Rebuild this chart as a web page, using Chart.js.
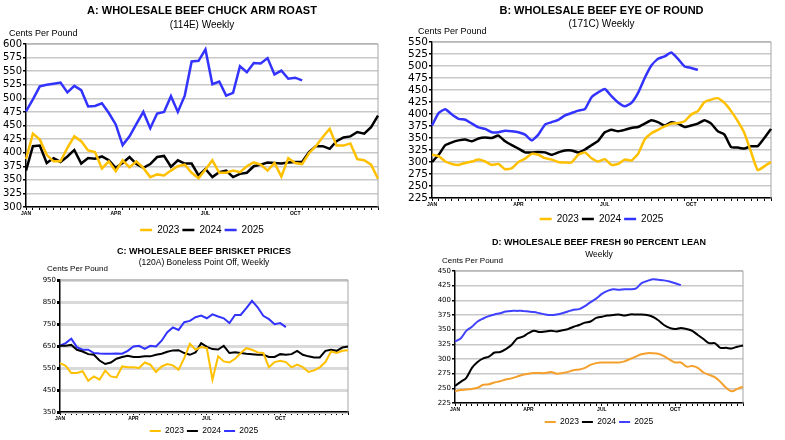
<!DOCTYPE html>
<html>
<head>
<meta charset="utf-8">
<script src="https://cdn.jsdelivr.net/npm/chart.js@4.4.1/dist/chart.umd.min.js"></script>
<style>
  html, body { margin: 0; padding: 0; background: #fff; }
  body { width: 785px; height: 440px; position: relative; overflow: hidden; }
  .panel { position: absolute; }
</style>
</head>
<body>
<div class="panel" style="left:0;top:0;width:392px;height:240px"><canvas id="chuckChart"></canvas></div>
<div class="panel" style="left:392px;top:0;width:393px;height:230px"><canvas id="eyeChart"></canvas></div>
<div class="panel" style="left:0;top:240px;width:392px;height:200px"><canvas id="brisketChart"></canvas></div>
<div class="panel" style="left:392px;top:230px;width:393px;height:210px"><canvas id="leanChart"></canvas></div>
<script>
// weekly categories and month tick labels
const weeks = Array.from({ length: 52 }, (_, i) => i + 1);
const monthNames = ['JAN', 'APR', 'JUL', 'OCT'];
const monthWeeks = [1, 14, 27, 40];
const years = ['2023', '2024', '2025'];

// A: chuck arm roast (114E)
const chuck2023 = [388,435,424,396,384,384,409,430,421,404,401,371,384,366,386,373,384,372,355,360,358,367,375,378,363,353,369,386,363,363,367,364,375,382,378,367,381,356,390,381,379,399,412,429,444,413,413,417,388,386,378,352];
const chuck2024 = [367,412,413,381,390,383,393,405,380,390,389,393,386,372,381,392,379,372,379,392,394,374,386,380,380,358,370,355,364,367,355,361,363,375,378,382,381,380,382,383,383,401,412,412,407,421,428,430,438,435,447,468];
const chuck2025 = [476,498,522,525,527,529,511,523,515,485,486,491,473,452,414,430,453,475,445,472,475,504,475,505,568,569,590,526,531,505,510,559,548,565,564,574,544,551,536,538,533];
const chuckTicks = [300,325,350,375,400,425,450,475,500,525,550,575,600];

// B: eye of round (171C)
const eye2023 = [315,312,301,296,294,298,301,305,301,294,296,285,287,300,307,317,315,308,305,300,299,299,315,320,308,301,306,294,296,305,303,317,347,360,367,374,380,381,385,399,406,425,430,433,423,406,385,360,321,283,291,300];
const eye2024 = [300,315,335,341,345,347,343,349,351,350,355,343,335,328,320,320,321,320,315,320,324,324,320,326,335,344,362,367,364,367,371,373,380,387,383,376,383,380,373,376,380,387,380,364,357,331,330,328,333,333,350,369];
const eye2025 = [376,402,410,399,390,388,380,372,369,362,362,365,364,362,357,345,357,378,383,388,397,402,407,410,435,445,452,437,424,416,423,444,475,501,515,520,528,515,499,496,492];
const eyeTicks = [225,250,275,300,325,350,375,400,425,450,475,500,525,550];

// C: brisket (120A)
const brisket2023 = [572,560,527,527,535,492,512,497,538,512,507,557,553,553,550,575,565,532,557,568,562,542,595,660,633,645,640,497,603,580,575,592,618,640,633,621,618,553,577,583,577,553,565,554,532,539,553,577,625,618,628,631];
const brisket2024 = [651,651,655,633,625,613,610,584,568,575,592,600,606,600,600,603,603,610,615,624,630,631,618,610,621,663,646,636,634,651,618,621,618,615,613,610,610,600,600,613,610,613,628,610,603,598,598,628,633,628,643,648];
const brisket2025 = [651,663,683,645,633,633,618,616,615,615,616,615,628,648,651,637,651,648,674,713,734,723,758,764,781,788,776,794,784,776,754,791,791,822,855,826,787,772,749,754,736];
const brisketTicks = [350,450,550,650,750,850,950];

// D: fresh 90 percent lean
const lean2023 = [245,247,248,249,251,256,257,260,262,265,267,270,273,275,276,276,276,278,275,276,278,281,282,285,290,293,294,294,294,294,296,300,304,308,310,310,309,305,299,294,294,287,288,285,277,273,269,261,251,245,249,253];
const lean2024 = [254,261,268,285,295,301,304,311,312,317,324,335,338,344,348,346,347,348,347,349,351,355,358,362,364,370,372,374,375,376,374,376,376,376,375,372,366,358,353,351,353,351,348,341,334,327,327,319,319,318,321,323];
const lean2025 = [330,335,348,355,364,369,373,376,378,381,382,382,382,381,380,378,376,375,376,378,381,384,385,390,397,403,411,416,419,418,419,419,420,429,433,436,435,434,432,429,426];
const leanTicks = [225,250,275,300,325,350,375,400,425,450];

const SANS = "'Liberation Sans', Arial, sans-serif";
const TICKS = "'DejaVu Sans', sans-serif";

// gray top/right border and the "Cents Per Pound" label
const panelExtras = {
    id: 'panelExtras',
    beforeDatasetsDraw(chart, args, opts) {
        const { ctx, chartArea: a } = chart;
        ctx.save();
        ctx.strokeStyle = '#a6a6a6';
        ctx.lineWidth = 1;
        ctx.beginPath();
        ctx.moveTo(a.left, a.top);
        ctx.lineTo(a.right, a.top);
        ctx.lineTo(a.right, a.bottom);
        ctx.stroke();
        ctx.restore();
    },
    afterDraw(chart, args, opts) {
        if (!opts.text) return;
        const { ctx, chartArea: a } = chart;
        ctx.save();
        ctx.fillStyle = '#000';
        ctx.font = opts.size + 'px ' + SANS;
        ctx.textBaseline = 'middle';
        ctx.textAlign = 'left';
        ctx.fillText(opts.text, a.left + opts.dx, a.top + opts.dy);
        ctx.restore();
    }
};

function makePanel(id, p) {
    const datasets = p.series.map((s, i) => ({
        label: years[i],
        data: s,
        borderColor: p.colors[i],
        backgroundColor: p.colors[i],
        borderWidth: p.lineWidth,
        pointRadius: 0,
        tension: p.tension,
        fill: false
    }));
    return new Chart(document.getElementById(id), {
        type: 'line',
        data: { labels: weeks, datasets: datasets },
        plugins: [panelExtras],
        options: {
            responsive: true,
            maintainAspectRatio: false,
            animation: false,
            layout: { padding: p.padding },
            plugins: {
                title: {
                    display: true, text: p.title, fullSize: false, color: '#000',
                    font: { family: SANS, size: p.titleSize, weight: 'bold' },
                    padding: { top: 0, bottom: p.titleGap }
                },
                subtitle: {
                    display: true, text: p.subtitle, fullSize: false, color: '#000',
                    font: { family: SANS, size: p.subSize },
                    padding: { top: 0, bottom: p.subGap }
                },
                legend: {
                    position: 'bottom', fullSize: false,
                    maxHeight: p.legendSize + 6,
                    labels: {
                        usePointStyle: true, pointStyle: 'line', pointStyleWidth: p.legendLine,
                        color: '#000', padding: 3,
                        font: { family: SANS, size: p.legendSize }
                    }
                },
                tooltip: { enabled: false },
                panelExtras: { text: 'Cents Per Pound', size: p.unitSize, dx: p.unitDx, dy: p.unitDy }
            },
            scales: {
                x: {
                    type: 'category',
                    offset: false,
                    afterFit: s => { s.height = p.xHeight; },
                    grid: { drawOnChartArea: false, drawTicks: true, tickLength: 3, tickColor: '#000', offset: false },
                    border: { color: '#000', width: 1.5 },
                    ticks: {
                        autoSkip: false, maxRotation: 0, padding: 1, color: '#000',
                        font: { family: SANS, size: 5, weight: 'bold', lineHeight: 1 },
                        callback: (v, i) => {
                            const k = monthWeeks.indexOf(weeks[i]);
                            return k >= 0 ? monthNames[k] : '';
                        }
                    }
                },
                y: {
                    min: p.ticks[0],
                    max: p.ticks[p.ticks.length - 1],
                    afterFit: s => { s.width = p.yWidth; },
                    afterBuildTicks: s => { s.ticks = p.ticks.map(v => ({ value: v })); },
                    grid: { color: p.gridColor, lineWidth: p.gridWidth, tickLength: 3, tickColor: '#000' },
                    border: { color: '#000', width: 1.5 },
                    ticks: {
                        autoSkip: false, padding: 1, color: '#000',
                        font: { family: TICKS, size: p.yFont, lineHeight: 1 }
                    }
                }
            }
        }
    });
}

makePanel('chuckChart', {
    title: 'A: WHOLESALE BEEF CHUCK ARM ROAST', subtitle: '(114E) Weekly',
    series: [chuck2023, chuck2024, chuck2025], ticks: chuckTicks,
    colors: ['#FFC000', '#000000', '#3333FF'], lineWidth: 2.5, tension: 0,
    padding: { top: 4, left: 0, right: 14, bottom: 2 },
    titleSize: 11, titleGap: 2, subSize: 10, subGap: 12.8,
    yWidth: 26, yFont: 10, xHeight: 15, gridColor: '#c8c8c8', gridWidth: 1.5,
    legendSize: 10, legendLine: 12, unitSize: 9, unitDx: -17, unitDy: -10
});

makePanel('eyeChart', {
    title: 'B: WHOLESALE BEEF EYE OF ROUND', subtitle: '(171C) Weekly',
    series: [eye2023, eye2024, eye2025], ticks: eyeTicks,
    colors: ['#FFC000', '#000000', '#3333FF'], lineWidth: 2.5, tension: 0.15,
    padding: { top: 4.4, left: 10, right: 14, bottom: 3 },
    titleSize: 11, titleGap: 1, subSize: 10, subGap: 11.4,
    yWidth: 30, yFont: 10.5, xHeight: 13, gridColor: '#c8c8c8', gridWidth: 1.5,
    legendSize: 10, legendLine: 12, unitSize: 9, unitDx: -14, unitDy: -10
});

makePanel('brisketChart', {
    title: 'C: WHOLESALE BEEF BRISKET PRICES', subtitle: '(120A) Boneless Point Off, Weekly',
    series: [brisket2023, brisket2024, brisket2025], ticks: brisketTicks,
    colors: ['#FFC000', '#000000', '#3333FF'], lineWidth: 2, tension: 0,
    padding: { top: 6.6, left: 0, right: 44, bottom: 1.75 },
    titleSize: 9, titleGap: 0.5, subSize: 8.5, subGap: 11.9,
    yWidth: 60, yFont: 7, xHeight: 11.75, gridColor: '#d9d9d9', gridWidth: 3,
    legendSize: 8.5, legendLine: 11, unitSize: 8, unitDx: -13, unitDy: -11
});

makePanel('leanChart', {
    title: 'D: WHOLESALE BEEF FRESH 90 PERCENT LEAN', subtitle: 'Weekly',
    series: [lean2023, lean2024, lean2025], ticks: leanTicks,
    colors: ['#F5A02C', '#000000', '#4040FF'], lineWidth: 2, tension: 0.3,
    padding: { top: 7.6, left: 0, right: 42, bottom: 10.75 },
    titleSize: 9, titleGap: 1.5, subSize: 8.5, subGap: 10.9,
    yWidth: 63, yFont: 7, xHeight: 11.75, gridColor: '#c8c8c8', gridWidth: 1.5,
    legendSize: 8.5, legendLine: 11, unitSize: 8, unitDx: -13, unitDy: -10
});
</script>
</body>
</html>
